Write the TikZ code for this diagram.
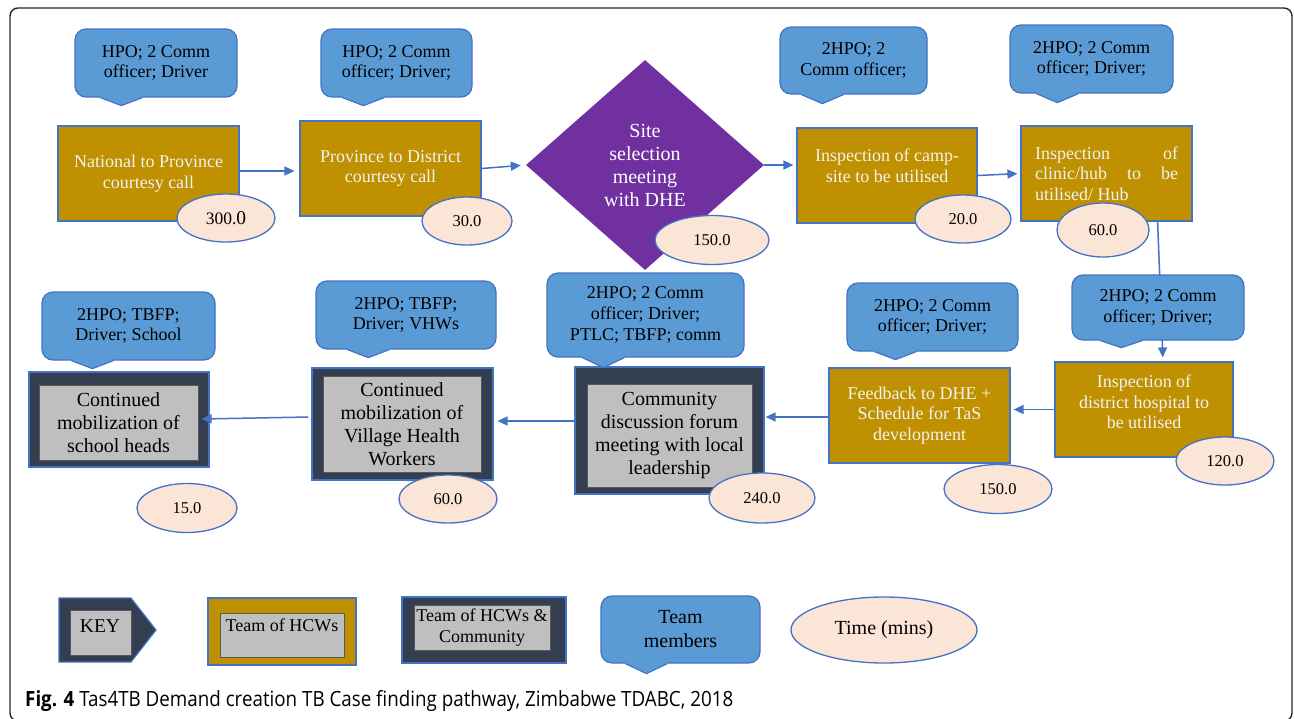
\documentclass[tikz,border=0pt]{standalone}
\usepackage{fontspec}
\usepackage{graphicx}
\setmainfont{Liberation Serif}
\newfontfamily\capfont{Open Sans}
\usetikzlibrary{shapes.geometric,arrows.meta,calc}
\definecolor{gold}{HTML}{BF9000}
\definecolor{callblue}{HTML}{5B9BD5}
\definecolor{edgeblue}{HTML}{4472C4}
\definecolor{peach}{HTML}{FBE5D6}
\definecolor{purp}{HTML}{7030A0}
\definecolor{slate}{HTML}{333F50}
\definecolor{grayin}{HTML}{BFBFBF}
\definecolor{lighttext}{HTML}{F2F2F2}
\tikzset{
 callbox/.style={rectangle, rounded corners=11pt, fill=callblue, draw=edgeblue, line width=1.2pt, inner sep=0pt, align=center, font=\fontsize{18}{20.7}\selectfont},
 goldbox/.style={rectangle, fill=gold, draw=edgeblue, line width=1.2pt, inner sep=0pt, align=center, text=lighttext, font=\fontsize{18}{20.7}\selectfont},
 darkbox/.style={rectangle, fill=slate, draw=edgeblue, line width=1.2pt, inner sep=0pt},
 graybox/.style={rectangle, fill=grayin, draw=black!65, line width=0.6pt, inner sep=0pt, align=center, font=\fontsize{20}{23}\selectfont},
 timeell/.style={ellipse, fill=peach, draw=edgeblue, line width=1.3pt, inner sep=0pt, font=\fontsize{16.5}{18}\selectfont},
 flow/.style={draw=edgeblue, line width=1.5pt, -{Triangle[length=10pt,width=9pt]}},
 lighttxt/.style={inner sep=0pt, align=center, text=lighttext, font=\fontsize{18}{20.7}\selectfont}
}
% name, cx, cy, w, h, tip offset from left, tip depth, text, extra options
\newcommand{\tmcallout}[9]{%
  \node[callbox, minimum width=#4pt, minimum height=#5pt, #9] (#1) at (#2,#3) {#8};
  \fill[callblue] ($(#1.south west)+(#6-21,-1.6)$) -- ($(#1.south west)+(#6+21,-1.6)$) -- ($(#1.south west)+(#6+21,0)$) -- ($(#1.south west)+(#6,#7)$) -- ($(#1.south west)+(#6-21,0)$) -- cycle;
  \draw[edgeblue, line width=1.2pt, line join=miter] ($(#1.south west)+(#6-21,0)$) -- ($(#1.south west)+(#6,#7)$) -- ($(#1.south west)+(#6+21,0)$);
}
\begin{document}
\begin{tikzpicture}[x=1pt,y=-1pt]
\useasboundingbox (0,0) rectangle (1295,718);
\fill[white] (0,0) rectangle (1295,718);
\draw[black!85, line width=1.4pt, rounded corners=8pt] (10,8) rectangle (1292,721);

% ---- top row boxes
\node[goldbox, minimum width=181pt, minimum height=95pt] (b1) at (148.5,173.5) {National to Province\\courtesy call};
\node[goldbox, minimum width=181pt, minimum height=95pt] (b2) at (390.5,168.5) {Province to District\\courtesy call};
\node[diamond, fill=purp, minimum width=238pt, minimum height=210pt, inner sep=0pt, text=white, align=center, font=\fontsize{20}{23}\selectfont] (d) at (645,165) {Site\\selection\\meeting\\with DHE};
\node[goldbox, minimum width=180pt, minimum height=95pt] (b3) at (887,175.5) {};
\node[lighttxt] (b3t) at (887,165.5) {Inspection of camp-\\site to be utilised};
\node[goldbox, minimum width=171pt, minimum height=95pt] (b4) at (1106.5,173.5) {\parbox{143pt}{\fontsize{18}{20.7}\selectfont Inspection\hfill of\\clinic/hub\hfill to\hfill be\\utilised/ Hub\hfill\mbox{}}};

% ---- bottom row boxes
\node[goldbox, minimum width=178pt, minimum height=95pt] (b10) at (1144,409.5) {};
\node[lighttxt] (b10t) at (1144,402) {Inspection of\\district hospital to\\be utilised};
\node[goldbox, minimum width=181pt, minimum height=95pt] (b9) at (919.5,415.5) {Feedback to DHE +\\Schedule for TaS\\development};
\node[darkbox, minimum width=189pt, minimum height=127pt] (b8) at (669.5,430.5) {};
\node[graybox, minimum width=165pt, minimum height=103pt] (b8i) at (669.5,435.5) {Community\\discussion forum\\meeting with local\\leadership};
\node[darkbox, minimum width=181pt, minimum height=112pt] (b7) at (402.5,424) {};
\node[graybox, minimum width=158pt, minimum height=96pt] (b7i) at (402,424) {Continued\\mobilization of\\Village Health\\Workers};
\node[darkbox, minimum width=180pt, minimum height=95pt] (b6) at (119,419.5) {};
\node[graybox, minimum width=159pt, minimum height=75pt] (b6i) at (118.5,422.5) {Continued\\mobilization of\\school heads};

% ---- connectors
\draw[flow, shorten >=5pt] ([yshift=2.5pt]b1.east) -- ([yshift=2.5pt]b1.east -| b2.west);
\draw[flow, shorten >=5pt] (b2.east) -- (d.west);
\draw[flow, shorten >=3pt] (d.east) -- (d.east -| b3.west);
\draw[flow, shorten >=3pt] (b3.east) -- (b4.west);
\draw[flow, shorten >=4pt] ([xshift=-35pt]b4.south east) -- ([xshift=19pt]b10.north);
\draw[flow, shorten >=3pt] (b10.west) -- (b10.west -| b9.east);
\draw[flow, shorten >=1pt] ([yshift=-1.5pt]b9.west) -- ([yshift=-1.5pt]b9.west -| b8.east);
\draw[flow, shorten >=4pt] ([yshift=9.5pt]b8.west) -- ([yshift=9.5pt]b8.west -| b7.east);
\draw[flow] ([xshift=-3pt,yshift=7pt]b7.west) -- ([xshift=-8pt,yshift=0.5pt]b6.east);

% ---- team member callouts
\tmcallout{c1}{156}{63}{162}{68}{47}{8}{HPO; 2 Comm\\officer; Driver}{}
\tmcallout{c2}{396.5}{63}{151}{68}{43}{8}{HPO; 2 Comm\\officer; Driver;}{}
\tmcallout{c3}{853.5}{60.5}{147}{67}{43}{9}{2HPO; 2\\Comm officer;}{}
\tmcallout{c4}{1091.5}{59}{163}{68}{48}{9}{2HPO; 2 Comm\\officer; Driver;}{}
\tmcallout{c5}{1158}{307.5}{172}{65}{50}{7}{2HPO; 2 Comm\\officer; Driver;}{}
\tmcallout{c9}{932.5}{317}{171}{68}{49}{8}{2HPO; 2 Comm\\officer; Driver;}{}
\tmcallout{c8}{645.5}{315}{197}{84}{57}{10}{2HPO; 2 Comm\\officer; Driver;\\PTLC; TBFP; comm}{}
\tmcallout{c7}{406}{315}{180}{68}{53}{8}{2HPO; TBFP;\\Driver; VHWs}{}
\tmcallout{c6}{128.5}{326}{173}{68}{51}{8}{2HPO; TBFP;\\Driver; School}{}

% ---- time ellipses
\node[timeell, minimum width=98pt, minimum height=48pt] (e1) at (226,218) {\fontsize{17.5}{18}\selectfont 300.{\fontsize{19.5}{18}\selectfont 0}};
\node[timeell, minimum width=90pt, minimum height=48pt] (e2) at (467,221) {30.0};
\node[timeell, minimum width=114pt, minimum height=49pt] (e3) at (712,240) {150.0};
\node[timeell, minimum width=96pt, minimum height=48pt] (e4) at (963,219) {20.0};
\node[timeell, minimum width=92pt, minimum height=54pt] (e5) at (1103,230) {60.0};
\node[timeell, minimum width=98pt, minimum height=48pt] (e10) at (1225,461) {120.0};
\node[timeell, minimum width=108pt, minimum height=49pt] (e9) at (998,489) {150.0};
\node[timeell, minimum width=106pt, minimum height=50pt] (e8) at (762,498) {240.0};
\node[timeell, minimum width=98pt, minimum height=48pt] (e7) at (448,499) {60.0};
\node[timeell, minimum width=100pt, minimum height=49pt] (e6) at (187,508) {15.0};

% ---- key
\fill[slate] (59,598) -- (131,598) -- (156,630) -- (131,662) -- (59,662) -- cycle;
\draw[edgeblue, line width=1.2pt] (59,598) -- (131,598) -- (156,630) -- (131,662) -- (59,662) -- cycle;
\node[graybox, minimum width=61pt, minimum height=45pt] (kkey) at (100.5,632.5) {};
\node[inner sep=0pt, font=\fontsize{19.5}{22}\selectfont] (kkeyt) at (100,626) {KEY};
\node[goldbox, minimum width=148pt, minimum height=67pt] (khcw) at (282,631.5) {};
\node[graybox, minimum width=124pt, minimum height=44pt] (khcwi) at (282,635) {};
\node[inner sep=0pt, font=\fontsize{18}{20.7}\selectfont] (khcwt) at (282,625) {Team of HCWs};
\node[darkbox, minimum width=164pt, minimum height=66pt] (kcom) at (484,630) {};
\node[graybox, minimum width=136pt, minimum height=45pt, font=\fontsize{18}{21}\selectfont] (kcomi) at (482,627.5) {Team of HCWs \&\\Community};
\tmcallout{kteam}{680.5}{629.5}{159}{67}{46}{10}{Team\\members}{font=\fontsize{20}{24}\selectfont}
\node[timeell, minimum width=186pt, minimum height=66pt, font=\fontsize{20}{23}\selectfont] (ktime) at (884,630) {Time (mins)};

% ---- caption
\node[anchor=base west, inner sep=0pt, font=\capfont\fontsize{21}{24}\selectfont] (cap) at (25,706.5) {\resizebox{708pt}{\height}{\textbf{Fig. 4} Tas4TB Demand creation TB Case finding pathway, Zimbabwe TDABC, 2018}};
\end{tikzpicture}
\end{document}
